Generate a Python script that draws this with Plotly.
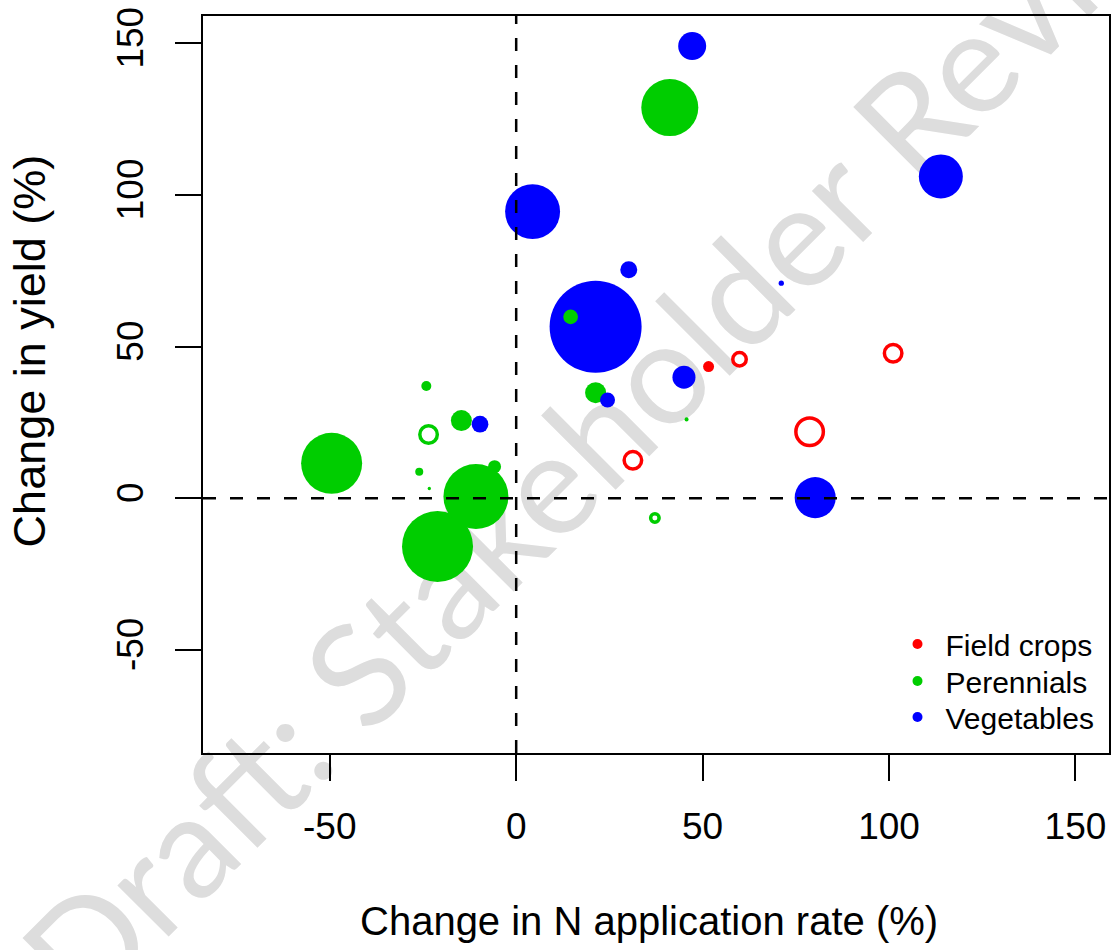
import plotly.graph_objects as go
import pandas as pd

# ---------------- data ----------------
groups = ["Field crops", "Perennials", "Vegetables"]
group_colors = ["#FF0000", "#00CD00", "#0000FF"]

field_x = [51.6, 59.9, 101.1, 31.3, 78.7]
field_y = [43.4, 45.8, 47.8, 12.5, 21.9]
field_w = [1.43, 2.15, 3.62, 3.62, 8.93]
field_filled = [True, False, False, False, False]

perennial_x = [41.2, 14.6, -24.1, -14.7, -23.5, -49.5, -26.0, -23.3, -5.8, -10.8, -21.1, 21.3, 45.7, 37.2]
perennial_y = [128.8, 59.8, 37.0, 25.6, 21.0, 11.5, 8.7, 3.2, 10.4, 0.6, -15.9, 34.8, 26.0, -6.5]
perennial_w = [38.4, 2.55, 1.18, 5.21, 3.62, 44.0, 0.76, 0.13, 2.0, 49.9, 59.6, 5.21, 0.19, 0.85]
perennial_filled = [True, True, True, True, False, True, True, True, True, True, True, True, True, False]

veg_x = [47.2, 4.4, 113.9, 30.2, 21.3, 71.1, -9.7, 24.5, 45.0, 80.2]
veg_y = [149.1, 94.5, 106.1, 75.3, 56.5, 70.9, 24.4, 32.4, 39.9, 0.2]
veg_w = [9.26, 35.7, 22.9, 3.41, 100.0, 0.33, 3.30, 2.66, 6.25, 19.9]
veg_filled = [True] * 10

tick_vals = [-50, 0, 50, 100, 150]
tick_text = ["-50", "0", "50", "100", "150"]
x_title = "Change in N application rate (%)"
y_title = "Change in yield (%)"
watermark = "Draft: Stakeholder Review"

# ---------------- build table ----------------
frames = []
for name, xs, ys, ws, fs in [
    (groups[0], field_x, field_y, field_w, field_filled),
    (groups[1], perennial_x, perennial_y, perennial_w, perennial_filled),
    (groups[2], veg_x, veg_y, veg_w, veg_filled),
]:
    frames.append(pd.DataFrame({"x": xs, "y": ys, "w": ws, "filled": fs, "group": name}))
df = pd.concat(frames, ignore_index=True)
# larger bubbles first so small ones sit on top
df = df.sort_values("w", ascending=False).reset_index(drop=True)

cmap = dict(zip(groups, group_colors))
OPEN_LW = 3.5
SCALE = 9.2  # px diameter per sqrt(weight)

FONT = "Liberation Sans, Arial, Helvetica, sans-serif"

L, R, T, B = 203, 4, 16, 197
W, H = 1115, 950
pw, ph = W - L - R, H - T - B


def pxx(p):
    return (p - L) / pw


def pxy(p):
    return (H - B - p) / ph


fig = go.Figure()
fig.add_trace(go.Scatter(
    x=df["x"], y=df["y"], mode="markers", showlegend=False, hoverinfo="skip",
    marker=dict(
        size=df["w"], sizemode="area", sizeref=2.0 / SCALE ** 2, sizemin=0,
        color=[cmap[g] for g in df["group"]],
        symbol=["circle" if f else "circle-open" for f in df["filled"]],
        line=dict(width=[0 if f else OPEN_LW for f in df["filled"]],
                  color=[cmap[g] for g in df["group"]]),
        opacity=1,
    ),
))

legend_rows = [644, 681, 717]
legend_names = ["legend", "legend2", "legend3"]
legend_layout = {}
for g, c, ln, row in zip(groups, group_colors, legend_names, legend_rows):
    fig.add_trace(go.Scatter(x=[None], y=[None], mode="markers", name=g, legend=ln,
                             marker=dict(color=c, size=10)))
    legend_layout[ln] = dict(
        x=pxx(891), xanchor="left", y=pxy(row), yanchor="middle",
        font=dict(family=FONT, size=30, color="black"),
        bgcolor="rgba(0,0,0,0)", borderwidth=0, itemwidth=46,
    )

dash = "13px,14px"
fig.add_vline(x=0, line=dict(color="black", width=2.5, dash=dash))
fig.add_hline(y=0, line=dict(color="black", width=2.5, dash=dash))

# watermark below the data
cx, cy = 622, 403
fig.add_shape(type="rect", xref="paper", yref="paper",
              x0=pxx(cx) - 0.001, x1=pxx(cx) + 0.001, y0=pxy(cy) - 0.001, y1=pxy(cy) + 0.001,
              line=dict(width=0), fillcolor="rgba(0,0,0,0)", layer="below",
              label=dict(text=watermark, textangle=-45, textposition="middle center",
                         font=dict(family="Lato", size=143, color="#DDDDDD")))

axis_common = dict(
    range=[-84, 159], tickvals=tick_vals, ticktext=tick_text, ticks="outside", ticklen=26,
    tickwidth=2, tickcolor="black", showline=True, linecolor="black", linewidth=2, mirror=True,
    showgrid=False, zeroline=False,
    tickfont=dict(family=FONT, size=37, color="black"),
)
fig.update_xaxes(**axis_common, ticklabelstandoff=14)
fig.update_yaxes(**axis_common, tickangle=-90, ticklabelstandoff=17)

# axis titles
fig.add_annotation(text=x_title, xref="paper", yref="paper", x=pxx(650), y=pxy(921),
                   xanchor="center", yanchor="middle", showarrow=False,
                   font=dict(family=FONT, size=40, color="black"))
fig.add_annotation(text=y_title, xref="paper", yref="paper", x=pxx(29), y=pxy(351),
                   xanchor="center", yanchor="middle", textangle=-90, showarrow=False,
                   font=dict(family=FONT, size=45, color="black"))

fig.update_layout(
    width=W, height=H, autosize=False,
    margin=dict(l=L, r=R, t=T, b=B, pad=0),
    paper_bgcolor="white", plot_bgcolor="white",
    font=dict(family=FONT, color="black"),
    **legend_layout,
)

fig.write_html("out.html")
